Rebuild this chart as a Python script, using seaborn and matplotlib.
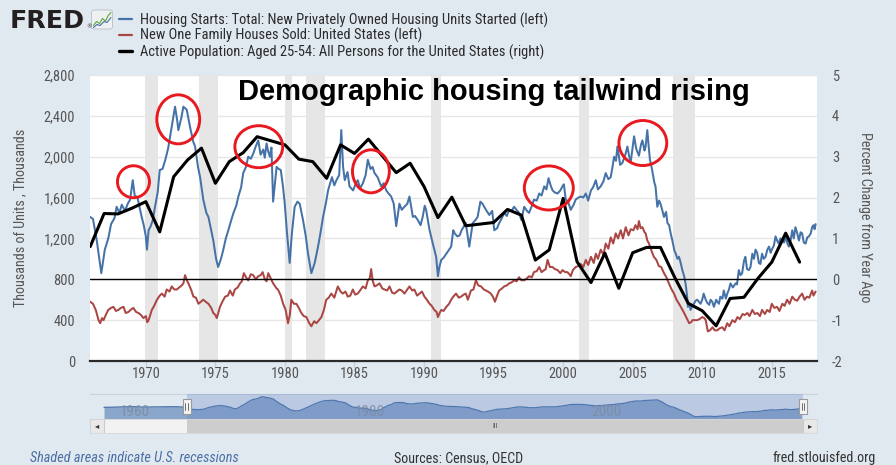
import matplotlib
matplotlib.use("Agg")
import matplotlib.pyplot as plt
import matplotlib.transforms as mtransforms
from matplotlib import font_manager as fm
from matplotlib.patches import Ellipse, Rectangle, FancyBboxPatch
from matplotlib.lines import Line2D
from matplotlib.ticker import FuncFormatter
import numpy as np
import pandas as pd
import seaborn as sns

# ---------------------------------------------------------------- data
# Housing Starts (thousands of units, left axis)
starts_t = [
    1966.00, 1966.20, 1966.45, 1966.80, 1967.05, 1967.30, 1967.50, 1967.75, 1967.90,
    1968.10, 1968.27, 1968.50, 1968.70, 1968.87, 1969.06, 1969.20, 1969.40, 1969.70, 1969.85,
    1970.00, 1970.08, 1970.20, 1970.35, 1970.50, 1970.66, 1970.85,
    1971.00, 1971.20, 1971.40, 1971.60, 1971.86,
    1972.10, 1972.25, 1972.34, 1972.55, 1972.70, 1972.94,
    1973.18, 1973.40, 1973.54, 1973.75, 1973.90,
    1974.13, 1974.35, 1974.50, 1974.70, 1974.85,
    1975.05, 1975.20, 1975.40, 1975.57, 1975.75, 1975.93,
    1976.10, 1976.30, 1976.50, 1976.65, 1976.85,
    1977.00, 1977.20, 1977.36, 1977.55, 1977.72, 1977.90,
    1978.08, 1978.25, 1978.44, 1978.55, 1978.68, 1978.80, 1978.92,
    1979.03, 1979.15, 1979.40, 1979.55, 1979.70, 1979.85, 1979.98,
    1980.15, 1980.34, 1980.50, 1980.70, 1980.90,
    1981.06, 1981.30, 1981.50, 1981.66, 1981.90,
    1982.14, 1982.38, 1982.55, 1982.74, 1982.95,
    1983.10, 1983.38, 1983.55, 1983.70, 1983.90,
    1984.05, 1984.18, 1984.30, 1984.50, 1984.64, 1984.90,
    1985.10, 1985.24, 1985.40, 1985.60, 1985.80, 1985.96,
    1986.15, 1986.30, 1986.44, 1986.66, 1986.92,
    1987.10, 1987.28, 1987.45, 1987.64, 1987.82,
    1988.00, 1988.23, 1988.40, 1988.59, 1988.80, 1988.95,
    1989.20, 1989.35, 1989.55, 1989.75, 1989.90,
    1990.05, 1990.15, 1990.40, 1990.63, 1990.87,
    1991.00, 1991.10, 1991.24, 1991.40, 1991.60, 1991.80, 1991.95,
    1992.10, 1992.20, 1992.40, 1992.56, 1992.70,
    1993.00, 1993.25, 1993.50, 1993.70, 1993.85,
    1994.05, 1994.20, 1994.45, 1994.69, 1994.90,
    1995.05, 1995.25, 1995.40, 1995.60, 1995.76, 1995.95,
    1996.12, 1996.30, 1996.47, 1996.65, 1996.83,
    1997.00, 1997.20, 1997.40, 1997.55, 1997.75, 1997.90,
    1998.10, 1998.28, 1998.45, 1998.64, 1998.80, 1998.95,
    1999.10, 1999.24, 1999.40, 1999.60, 1999.80, 1999.95,
    2000.05, 2000.19, 2000.35, 2000.55, 2000.75, 2000.90,
    2001.10, 2001.27, 2001.45, 2001.63, 2001.80,
    2002.00, 2002.15, 2002.35, 2002.50, 2002.70, 2002.90,
    2003.06, 2003.25, 2003.42, 2003.55, 2003.66, 2003.80, 2003.90,
    2004.10, 2004.26, 2004.45, 2004.62, 2004.75, 2004.86,
    2005.10, 2005.25, 2005.45, 2005.60, 2005.70, 2005.85, 2005.93,
    2006.05, 2006.15, 2006.24, 2006.40, 2006.55, 2006.64, 2006.77, 2006.90,
    2007.00, 2007.12, 2007.25, 2007.40, 2007.50, 2007.62, 2007.73, 2007.85,
    2008.00, 2008.10, 2008.22, 2008.33, 2008.45, 2008.57, 2008.70, 2008.80, 2008.90, 2008.97,
    2009.08, 2009.16, 2009.30, 2009.40, 2009.52, 2009.64, 2009.76, 2009.88,
    2010.00, 2010.10, 2010.25, 2010.36, 2010.50, 2010.60, 2010.72, 2010.84,
    2011.00, 2011.08, 2011.20, 2011.30, 2011.45, 2011.55, 2011.70, 2011.80, 2011.92,
    2012.03, 2012.20, 2012.40, 2012.50, 2012.63, 2012.75, 2012.87,
    2013.00, 2013.10, 2013.22, 2013.35, 2013.47, 2013.60, 2013.72, 2013.83, 2013.95,
    2014.07, 2014.18, 2014.30, 2014.42, 2014.55, 2014.68, 2014.80, 2014.92,
    2015.00, 2015.15, 2015.27, 2015.38, 2015.50, 2015.62, 2015.76, 2015.88,
    2016.00, 2016.12, 2016.23, 2016.35, 2016.47, 2016.58, 2016.70, 2016.83, 2016.95,
    2017.07, 2017.18, 2017.30, 2017.43, 2017.55, 2017.67, 2017.80, 2017.90,
    2018.00, 2018.08, 2018.15,
]
starts_v = [
    1410, 1390, 1200, 860, 1090, 1200, 1340, 1400, 1510,
    1450, 1530, 1470, 1540, 1580, 1770, 1620, 1600, 1410, 1330,
    1220, 1090, 1280, 1320, 1380, 1510, 1650,
    1870, 1880, 1970, 2080, 2290,
    2490, 2360, 2260, 2380, 2490, 2460,
    2290, 2150, 2100, 1900, 1800,
    1580, 1450, 1410, 1280, 1180,
    1000, 920, 1000, 1090, 1200, 1280,
    1360, 1450, 1520, 1610, 1700,
    1840, 1900, 2000, 1980, 2030, 2100,
    2160, 2020, 2070, 1990, 2130, 2050, 2000,
    2090, 1560, 1900, 1880, 1870, 1720, 1550,
    1250, 960, 1250, 1510, 1560,
    1540, 1380, 1220, 1050, 860,
    960, 1120, 1250, 1410, 1550,
    1670, 1800, 1720, 1770, 1820,
    2260, 1900, 1770, 1850, 1710, 1670,
    1740, 1770, 1690, 1740, 1820, 1970,
    1880, 1900, 1840, 1800, 1710,
    1740, 1670, 1640, 1610, 1540,
    1320, 1540, 1480, 1510, 1540, 1610,
    1410, 1420, 1380, 1330, 1410,
    1520, 1480, 1280, 1150, 1020,
    830, 920, 990, 1010, 1050, 1090, 1120,
    1280, 1250, 1220, 1230, 1280,
    1350, 1120, 1350, 1380, 1410,
    1560, 1540, 1480, 1430, 1470,
    1280, 1300, 1350, 1400, 1450, 1420,
    1480, 1470, 1510, 1480, 1450,
    1380, 1510, 1470, 1450, 1520, 1580,
    1570, 1640, 1620, 1710, 1680, 1790,
    1720, 1670, 1650, 1640, 1670, 1710,
    1730, 1580, 1560, 1480, 1530, 1580,
    1600, 1610, 1600, 1640, 1570,
    1670, 1700, 1770, 1680, 1710, 1760,
    1840, 1780, 1800, 1900, 2000, 1960, 2100,
    1920, 1940, 2010, 2100, 2000, 1950,
    2200, 2080, 2010, 2120, 2160, 2060, 2100,
    2260, 2100, 1970, 1870, 1750, 1710, 1510, 1570,
    1540, 1480, 1410, 1460, 1350, 1330, 1250, 1180,
    1080, 1050, 1000, 1020, 960, 890, 830, 760, 650, 530,
    560, 500, 540, 560, 590, 600, 580, 560,
    600, 660, 600, 570, 550, 600, 580, 530,
    600, 580, 560, 630, 610, 690, 610, 660, 700,
    760, 720, 760, 750, 890, 840, 860,
    980, 1020, 900, 890, 920, 1050, 1000, 1090, 1060,
    960, 950, 1050, 1000, 1020, 1090, 1120, 1060,
    1090, 1130, 1220, 1180, 1150, 1200, 1180, 1160,
    1220, 1150, 1120, 1180, 1280, 1200, 1310, 1250, 1180,
    1260, 1250, 1160, 1150, 1210, 1220, 1250, 1310,
    1330, 1290, 1340,
]

# New One Family Houses Sold (thousands, left axis)
sales_t = [
    1966.00, 1966.20, 1966.40, 1966.60, 1966.72, 1966.85, 1966.96,
    1967.15, 1967.30, 1967.50, 1967.67, 1967.85,
    1968.03, 1968.20, 1968.40, 1968.55, 1968.75, 1968.90,
    1969.10, 1969.30, 1969.47, 1969.65, 1969.83,
    1970.00, 1970.10, 1970.20, 1970.43, 1970.60, 1970.80,
    1971.00, 1971.15, 1971.35, 1971.50, 1971.70, 1971.86,
    1972.05, 1972.22, 1972.40, 1972.58, 1972.70, 1972.82, 1972.95,
    1973.06, 1973.25, 1973.42, 1973.60, 1973.78, 1973.95,
    1974.13, 1974.30, 1974.50, 1974.70, 1974.85,
    1975.00, 1975.10, 1975.33, 1975.50, 1975.70, 1975.90,
    1976.05, 1976.25, 1976.40, 1976.60, 1976.77, 1976.90,
    1977.05, 1977.20, 1977.36, 1977.55, 1977.72, 1977.90,
    1978.08, 1978.25, 1978.40, 1978.55, 1978.68, 1978.80,
    1979.04, 1979.15, 1979.40, 1979.50, 1979.70, 1979.87,
    1980.05, 1980.22, 1980.35, 1980.46, 1980.65, 1980.82,
    1981.00, 1981.18, 1981.35, 1981.54, 1981.75, 1981.90,
    1982.10, 1982.26, 1982.45, 1982.62, 1982.80, 1982.97,
    1983.15, 1983.33, 1983.55, 1983.80,
    1984.00, 1984.16, 1984.35, 1984.52, 1984.70, 1984.88,
    1985.05, 1985.23, 1985.40, 1985.60, 1985.80, 1985.96,
    1986.10, 1986.20, 1986.30, 1986.44, 1986.60, 1986.80,
    1987.00, 1987.16, 1987.35, 1987.52, 1987.70, 1987.87,
    1988.05, 1988.23, 1988.40, 1988.59, 1988.80, 1988.95,
    1989.15, 1989.30, 1989.50, 1989.67, 1989.85,
    1990.03, 1990.20, 1990.40, 1990.55, 1990.74, 1990.90,
    1991.00, 1991.12, 1991.24, 1991.40, 1991.60, 1991.80, 1991.95,
    1992.10, 1992.30, 1992.50, 1992.66, 1992.85,
    1993.00, 1993.15, 1993.37, 1993.55, 1993.73, 1993.90,
    1994.10, 1994.30, 1994.45, 1994.60, 1994.80, 1994.95,
    1995.10, 1995.25, 1995.40, 1995.60, 1995.76, 1995.95,
    1996.12, 1996.30, 1996.47, 1996.65, 1996.83,
    1997.00, 1997.20, 1997.40, 1997.55, 1997.75, 1997.90,
    1998.10, 1998.28, 1998.45, 1998.64, 1998.75, 1998.88,
    1999.05, 1999.24, 1999.40, 1999.60, 1999.80, 1999.95,
    2000.15, 2000.30, 2000.45, 2000.55, 2000.70, 2000.90,
    2001.10, 2001.27, 2001.45, 2001.63, 2001.80,
    2002.00, 2002.20, 2002.35, 2002.50, 2002.70, 2002.90,
    2003.06, 2003.25, 2003.42, 2003.60, 2003.78, 2003.95,
    2004.14, 2004.30, 2004.50, 2004.70, 2004.86,
    2005.05, 2005.20, 2005.35, 2005.45, 2005.57, 2005.70, 2005.85, 2005.93,
    2006.05, 2006.17, 2006.35, 2006.52, 2006.70, 2006.88,
    2007.05, 2007.25, 2007.42, 2007.60, 2007.80, 2007.97,
    2008.15, 2008.33, 2008.50, 2008.70, 2008.88,
    2009.06, 2009.20, 2009.30, 2009.50, 2009.64, 2009.80,
    2010.00, 2010.15, 2010.25, 2010.40, 2010.55, 2010.74, 2010.90,
    2011.08, 2011.25, 2011.45, 2011.60, 2011.80, 2011.95,
    2012.17, 2012.35, 2012.53, 2012.70, 2012.90,
    2013.05, 2013.24, 2013.40, 2013.60, 2013.78, 2013.96,
    2014.15, 2014.30, 2014.50, 2014.67, 2014.85,
    2015.00, 2015.18, 2015.38, 2015.55, 2015.76, 2015.92,
    2016.10, 2016.28, 2016.47, 2016.65, 2016.83,
    2017.00, 2017.18, 2017.35, 2017.54, 2017.70, 2017.90,
    2018.00, 2018.15,
]
sales_v = [
    580, 560, 500, 400, 370, 420, 400,
    460, 500, 520, 530, 490,
    500, 520, 530, 470, 480, 500,
    520, 480, 470, 450, 420,
    440, 380, 400, 500, 540, 600,
    640, 660, 630, 700, 680, 730,
    700, 700, 720, 740, 760, 840, 790,
    760, 700, 630, 620, 560, 580,
    600, 580, 560, 520, 470,
    450, 420, 530, 580, 630, 640,
    690, 640, 700, 720, 760, 780,
    860, 820, 790, 850, 840, 800,
    830, 840, 870, 800, 780, 860,
    790, 760, 710, 700, 640, 560,
    500, 370, 450, 600, 560, 560,
    520, 470, 440, 430, 370, 340,
    390, 370, 400, 430, 500, 600,
    620, 660, 620, 730,
    680, 660, 680, 630, 640, 700,
    650, 660, 690, 730, 710, 790,
    810, 900, 790, 730, 740, 760,
    710, 700, 690, 730, 670, 660,
    680, 700, 690, 660, 700, 730,
    690, 700, 640, 660, 680,
    630, 600, 560, 540, 500, 480,
    430, 470, 500, 490, 530, 560, 600,
    630, 660, 620, 630, 650,
    660, 600, 690, 700, 790, 740,
    730, 700, 690, 680, 660, 630,
    580, 640, 690, 710, 730, 740,
    760, 770, 790, 780, 820,
    790, 790, 810, 830, 820, 870,
    880, 920, 870, 890, 900, 990,
    920, 920, 900, 890, 860, 890,
    870, 870, 850, 830, 890, 920,
    930, 950, 920, 990, 940,
    1020, 960, 1050, 1000, 1090, 1040,
    1150, 1100, 1210, 1150, 1250, 1200,
    1280, 1200, 1310, 1230, 1290,
    1280, 1330, 1290, 1370, 1300, 1310, 1260, 1250,
    1180, 1150, 1080, 1020, 990, 930,
    920, 860, 820, 760, 700, 660,
    600, 560, 520, 470, 420,
    370, 380, 400, 400, 400, 410,
    430, 420, 400, 290, 300, 330, 300,
    300, 320, 330, 300, 370, 340,
    400, 380, 430, 410, 460,
    450, 470, 440, 500, 460, 470,
    440, 500, 460, 500, 480,
    560, 520, 530, 490, 560, 540,
    600, 560, 630, 600, 590,
    630, 660, 600, 630, 620, 690,
    640, 680,
]

# Active Population aged 25-54, percent change from year ago (right axis), annual
pop_years = list(range(1966, 2018))
pop_values = [
    0.80, 1.61, 1.60, 1.74, 1.90, 1.16, 2.51, 2.92, 3.21, 2.35,
    2.88, 3.10, 3.49, 3.39, 3.29, 2.94, 2.88, 2.47, 3.29, 3.08,
    3.43, 3.02, 2.61, 2.84, 2.27, 1.51, 2.01, 1.31, 1.35, 1.39,
    1.71, 1.57, 0.47, 0.72, 1.98, 0.43, -0.08, 0.64, -0.22, 0.65,
    0.78, 0.78, 0.06, -0.59, -0.77, -1.14, -0.47, -0.44, 0.02, 0.42,
    1.13, 0.42,
]

# Navigator: housing starts before the zoomed window
nav_pre_t = [1959.0, 1959.8, 1960.6, 1961.5, 1962.3, 1963.4, 1964.3, 1965.1, 1965.7]
nav_pre_v = [1640, 1390, 1270, 1390, 1480, 1640, 1545, 1425, 1480]

# NBER recessions (decimal years)
recessions = [(1969.92, 1970.87), (1973.83, 1975.21), (1980.0, 1980.54),
              (1981.5, 1982.87), (1990.5, 1991.21), (2001.17, 2001.87),
              (2007.92, 2009.46)]

# Red highlight circles: centre year, centre value (left units), width (yrs), height (units)
highlight_circles = [(1969.11, 1755, 2.30, 313), (1972.33, 2366, 3.08, 480),
                     (1978.12, 2098, 3.44, 411), (1986.18, 1857, 2.65, 421),
                     (1998.97, 1694, 3.52, 431), (2005.73, 2134, 3.44, 441)]

left_ticks = list(range(0, 2801, 400))
right_ticks = list(range(-2, 6))
year_ticks = list(range(1970, 2016, 5))
nav_labels = [1960, 1980, 2000]

series_labels = [
    "Housing Starts: Total: New Privately Owned Housing Units Started (left)",
    "New One Family Houses Sold: United States (left)",
    "Active Population: Aged 25-54: All Persons for the United States (right)",
]
title_text = "Demographic housing tailwind rising"

# ---------------------------------------------------------------- style
W, H = 896, 465
BG = "#E1E9F0"
BLUE, RED, BLACK = "#4572A7", "#AA4643", "#000000"
GREY_TXT = "#555555"

sns.set_theme(style="white")
avail = {f.name for f in fm.fontManager.ttflist}
COND = next((f for f in ["Liberation Sans Narrow", "Roboto Condensed",
                          "Open Sans Condensed", "Roboto", "Liberation Sans"]
             if f in avail), "DejaVu Sans")
plt.rcParams["font.family"] = [COND, "DejaVu Sans"]
plt.rcParams["axes.unicode_minus"] = False

fig = plt.figure(figsize=(W / 100, H / 100), dpi=100, facecolor=BG)


def fx(px):
    return px / W


def fy(py):
    return 1 - py / H


def fit(t, target, vertical=False):
    for _ in range(2):
        r = fig.canvas.get_renderer()
        bb = t.get_window_extent(renderer=r)
        cur = bb.height if vertical else bb.width
        t.set_fontsize(t.get_fontsize() * target / cur)


# ---------------------------------------------------------------- legend / header
leg_rows = [(19, 24.2), (34.8, 40.0), (51.3, 56.6)]
leg_cols = [(BLUE, 1.6), (RED, 1.6), (BLACK, 2.4)]
leg_texts = []
for (yl, yb), (c, lw), lab in zip(leg_rows, leg_cols, series_labels):
    fig.add_artist(Line2D([fx(118.6), fx(132)], [fy(yl), fy(yl)],
                          transform=fig.transFigure, color=c, lw=lw))
    leg_texts.append(fig.text(fx(139.7), fy(yb), lab, ha="left", va="baseline",
                              fontsize=10, color="#2B2B2B"))
fit(leg_texts[0], 409.5)
FS = leg_texts[0].get_fontsize()
for t in leg_texts[1:]:
    t.set_fontsize(FS)

logo = fig.text(fx(9.6), fy(28.3), "FRED", ha="left", va="baseline",
                fontsize=18, fontweight="bold", family=["DejaVu Sans"], color="#231F20")
fit(logo, 75)
fig.text(fx(86.5), fy(28.5), "®", ha="left", va="baseline", fontsize=4,
         family=["DejaVu Sans"], color="#231F20")
fig.add_artist(FancyBboxPatch((fx(91.5), fy(29)), fx(21), fy(10) - fy(29),
                              boxstyle="round,pad=0,rounding_size=0.004",
                              transform=fig.transFigure, fc="#EEF0F2", ec="#B8BEC6", lw=0.6))
LOGO_GREEN = [(93.5, 25.5), (96.5, 21.5), (99.5, 23.5), (102.5, 18.5), (105.5, 21), (108.5, 15), (111, 12.5)]
LOGO_BLUE = [(93.5, 27.5), (97, 24.5), (100, 25.5), (104, 21.5), (107, 22.5), (111, 17.5)]
for pts, c in ((LOGO_GREEN, "#5DA83A"), (LOGO_BLUE, "#4572A7")):
    fig.add_artist(Line2D([fx(p[0]) for p in pts], [fy(p[1]) for p in pts],
                          transform=fig.transFigure, color=c, lw=0.8))

# ---------------------------------------------------------------- main axes
ax = fig.add_axes([fx(89.5), fy(361), fx(817) - fx(89.5), fy(75) - fy(361)])
ax.set_facecolor("white")
for a, b in recessions:
    ax.axvspan(a, b, color="#E6E6E6", lw=0, zorder=0.6)
ax.set_yticks(left_ticks)
ax.yaxis.grid(True, color="#E6E6E6", lw=1.0, zorder=0.5)
ax.set_axisbelow(True)

sns.lineplot(x=starts_t, y=starts_v, ax=ax, color=BLUE, lw=1.45,
             estimator=None, sort=False, legend=False, zorder=3)
sns.lineplot(x=sales_t, y=sales_v, ax=ax, color=RED, lw=1.45,
             estimator=None, sort=False, legend=False, zorder=3)
ax.set_xlim(1965.95, 2018.25)
ax.set_ylim(0, 2800)
ax.set_xticks(year_ticks)
ax.set_xticklabels([str(y) for y in year_ticks])
ax.yaxis.set_major_formatter(FuncFormatter(lambda v, p: f"{int(v):,}"))
ax.tick_params(axis="x", bottom=True, length=4, width=1, color="#C0D0E0", pad=0.5,
               labelcolor=GREY_TXT, labelsize=FS)
ax.tick_params(axis="y", left=False, length=0, pad=10.4, labelcolor=GREY_TXT, labelsize=FS)
for s in ax.spines.values():
    s.set_visible(False)
ax.spines["bottom"].set_visible(True)
ax.spines["bottom"].set_color("#2A2A2A")
ax.spines["bottom"].set_linewidth(1.6)
ax.set_xlabel("")
ax.set_ylabel("")

ax2 = ax.twinx()
ax2.axhline(0, color="black", lw=1.0, zorder=2)
sns.lineplot(x=pop_years, y=pop_values, ax=ax2, color=BLACK, lw=2.2,
             estimator=None, sort=False, legend=False, zorder=4)
for cx, cy, w, h in highlight_circles:
    ax2.add_patch(Ellipse((cx, cy), w, h, transform=ax.transData, fill=False,
                          ec="#E8191F", lw=2.1, zorder=6))
ax2.set_ylim(-2, 5)
ax2.set_yticks(right_ticks)
ax2.tick_params(axis="y", right=False, length=0, pad=10.8, labelcolor=GREY_TXT, labelsize=FS)
for s in ax2.spines.values():
    s.set_visible(False)
ax2.set_ylabel("")
ax.set_xlim(1965.95, 2018.25)

title = fig.text(fx(493.8), fy(100), title_text, ha="center", va="baseline",
                 fontsize=20, fontweight="bold", family=["Liberation Sans", "DejaVu Sans"],
                 color="black")
fit(title, 509)

yl = fig.text(fx(20.7), fy(217.5), "Thousands of Units , Thousands", rotation=90,
              ha="center", va="center", fontsize=FS, color=GREY_TXT)
fit(yl, 178, vertical=True)
yr = fig.text(fx(865), fy(217.4), "Percent Change from Year Ago", rotation=270,
              ha="center", va="center", fontsize=FS, color=GREY_TXT)
fit(yr, 171, vertical=True)

# ---------------------------------------------------------------- navigator
NAV_X = (1957.81, 2019.49)
SEL = (1966.0, 2018.3)
axn = fig.add_axes([fx(90), fy(419), fx(817) - fx(90), fy(394) - fy(419)])
axn.set_facecolor(BG)
nav_t = nav_pre_t + starts_t
nav_s = pd.Series(nav_pre_v + starts_v, dtype=float).rolling(7, center=True, min_periods=1).mean()
NAV_Y = (340, 2655)
axn.fill_between(nav_t, nav_s.values, NAV_Y[0], color="#8AA6CB", lw=0, zorder=1)
sns.lineplot(x=nav_t, y=nav_s.values, ax=axn, color=BLUE, lw=0.9,
             estimator=None, sort=False, legend=False, zorder=2)
axn.axvspan(SEL[0], SEL[1], color="#6685C2", alpha=0.3, lw=0, zorder=3)
axn.set_xlim(*NAV_X)
axn.set_ylim(*NAV_Y)
axn.set_xticks([])
axn.set_yticks([])
axn.set_xlabel("")
axn.set_ylabel("")
for k, s in axn.spines.items():
    s.set_visible(k == "top")
axn.spines["top"].set_color("#C6D2DE")
axn.spines["top"].set_linewidth(0.8)
blend = mtransforms.blended_transform_factory(axn.transData, axn.transAxes)
for yrl in nav_labels:
    axn.text(yrl + 0.3, 0.3, str(yrl), transform=blend, ha="left", va="center",
             fontsize=FS * 1.05, color="#7C8BA1", alpha=0.85, zorder=4)
for hx in SEL:
    axn.add_patch(Rectangle((hx - 0.34, 0.2), 0.68, 0.6, transform=blend,
                            fc="#F4F4F4", ec="#9A9A9A", lw=0.8, zorder=6, clip_on=False))
    for dx in (-0.1, 0.1):
        axn.add_line(Line2D([hx + dx, hx + dx], [0.35, 0.65], transform=blend,
                            color="#555555", lw=0.6, zorder=7, clip_on=False))

axs = fig.add_axes([fx(90), fy(433), fx(817) - fx(90), fy(419) - fy(433)])
axs.set_facecolor("#F2F2F2")
axs.set_xlim(*NAV_X)
axs.set_ylim(0, 1)
axs.axvspan(SEL[0], SEL[1], color="#CDCDCD", lw=0)
axs.axvspan(NAV_X[0], 1959.0, fc="#E9E9E9", ec="#CCCCCC", lw=0.8)
axs.axvspan(SEL[1], NAV_X[1], fc="#E9E9E9", ec="#CCCCCC", lw=0.8)
axs.text((NAV_X[0] + 1959.0) / 2, 0.5, "◂", ha="center", va="center", fontsize=6,
         family=["DejaVu Sans"], color="#333333")
axs.text((SEL[1] + NAV_X[1]) / 2, 0.5, "▸", ha="center", va="center", fontsize=6,
         family=["DejaVu Sans"], color="#333333")
axs.text((SEL[0] + SEL[1]) / 2, 0.5, "III", ha="center", va="center", fontsize=5,
         color="#444444")
axs.set_xticks([])
axs.set_yticks([])
for s in axs.spines.values():
    s.set_color("#D6D6D6")
    s.set_linewidth(0.6)

# ---------------------------------------------------------------- footer
f1 = fig.text(fx(29.7), fy(458), "Shaded areas indicate U.S. recessions", ha="left",
              va="center", style="italic", fontsize=FS, color="#4A6FA5")
fit(f1, 209)
f2 = fig.text(fx(459), fy(458), "Sources: Census, OECD", ha="center", va="center",
              fontsize=FS, color="#333333")
fit(f2, 128)
f3 = fig.text(fx(875.4), fy(458), "fred.stlouisfed.org", ha="right", va="center",
              fontsize=FS, color="#333333")
fit(f3, 104)

fig.savefig("out.png", dpi=100, facecolor=BG)
